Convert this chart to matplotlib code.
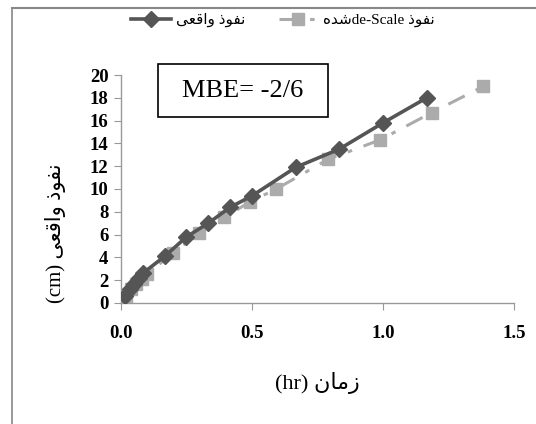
import matplotlib
matplotlib.use("Agg")
import matplotlib.pyplot as plt
from matplotlib.patches import Rectangle
from matplotlib.lines import Line2D

# ---- data ----
actual_time = [0.017, 0.033, 0.05, 0.067, 0.083, 0.167, 0.25, 0.333, 0.417, 0.5, 0.667, 0.833, 1.0, 1.167]
actual_inf = [0.6, 1.2, 1.7, 2.2, 2.6, 4.1, 5.8, 7.0, 8.4, 9.4, 11.9, 13.5, 15.8, 18.0]
scaled_time = [0.02, 0.04, 0.059, 0.079, 0.099, 0.198, 0.296, 0.395, 0.494, 0.593, 0.79, 0.988, 1.186, 1.383]
scaled_inf = [0.5, 1.2, 1.7, 2.1, 2.5, 4.4, 6.1, 7.5, 8.9, 10.0, 12.6, 14.3, 16.7, 19.0]
xticks = [0.0, 0.5, 1.0, 1.5]
xtick_labels = ["0.0", "0.5", "1.0", "1.5"]
yticks = list(range(0, 21, 2))

# Pre-shaped Arabic text (presentation forms, visual order)
NAFUDH = "\uFEAB\uFEEE\uFED4\uFEE7"          # نفوذ
VAQEI = "\uFEF0\uFECC\uFED7\uFE8D\uFEED"      # واقعی
ZAMAN = "\uFEE5\uFE8E\uFEE3\uFEAF"            # زمان
SHODE = "\uFEE9\uFEAA\uFEB7"                  # شده
label_actual = VAQEI + " " + NAFUDH
label_scaled = SHODE + "de-Scale " + NAFUDH
ylabel = "(cm) " + VAQEI + " " + NAFUDH
xlabel = "(hr) " + ZAMAN

FAM = ["Liberation Serif", "DejaVu Sans"]
plt.rcParams["font.family"] = FAM

fig = plt.figure(figsize=(5.36, 4.24), dpi=100)
fig.patch.set_facecolor("white")
ax = fig.add_axes([0.2257, 0.2854, 0.7333, 0.5377])

dark = "#555555"
light = "#ababab"
ax.plot(actual_time, actual_inf, color=dark, lw=2.6, marker="D", ms=8.5,
        mfc=dark, mec=dark, label=label_actual, zorder=3)
ax.plot(scaled_time, scaled_inf, color=light, lw=2.2, ls=(0, (6, 4, 1.5, 4)),
        marker="s", ms=8.5, mfc=light, mec=light, label=label_scaled, zorder=2)

ax.set_xlim(0, 1.5)
ax.set_ylim(0, 20)
ax.set_xticks(xticks)
ax.set_xticklabels(xtick_labels)
ax.set_yticks(yticks)
for s in ["top", "right"]:
    ax.spines[s].set_visible(False)
for s in ["left", "bottom"]:
    ax.spines[s].set_color("#999999")
    ax.spines[s].set_linewidth(1.0)
ax.tick_params(axis="both", direction="out", length=5, color="#999999",
               labelsize=13.5, pad=4)
ax.tick_params(axis="x", pad=11)
for lab in ax.get_xticklabels() + ax.get_yticklabels():
    lab.set_fontweight("bold")
    lab.set_family("Liberation Serif")

fig.text(0.103, 0.45, ylabel, rotation=90, ha="center", va="center",
         fontsize=15, family=FAM)
fig.text(0.593, 0.097, xlabel, ha="center", va="center", fontsize=16, family=FAM)

leg = fig.legend(handles=ax.get_lines(), loc="center", ncol=2,
                 bbox_to_anchor=(0.528, 0.952), frameon=False,
                 handlelength=2.6, columnspacing=2.2, handletextpad=0.3,
                 prop={"family": FAM, "size": 11})

# MBE box
fig.patches.append(Rectangle((158 / 536, 1 - 117 / 424), 170 / 536, 53 / 424,
                             transform=fig.transFigure, fill=False,
                             edgecolor="black", lw=1.2))
fig.text(243 / 536, 1 - 91 / 424, "MBE= -2/6", ha="center", va="center",
         fontsize=19, family="Liberation Serif")

# outer frame lines (top, left)
fig.add_artist(Line2D([12 / 536, 1], [1 - 8 / 424, 1 - 8 / 424],
                      transform=fig.transFigure, color="#888888", lw=1.5))
fig.add_artist(Line2D([12 / 536, 12 / 536], [0, 1 - 8 / 424],
                      transform=fig.transFigure, color="#888888", lw=1.2))

fig.savefig("out.png", dpi=100, facecolor="white")
